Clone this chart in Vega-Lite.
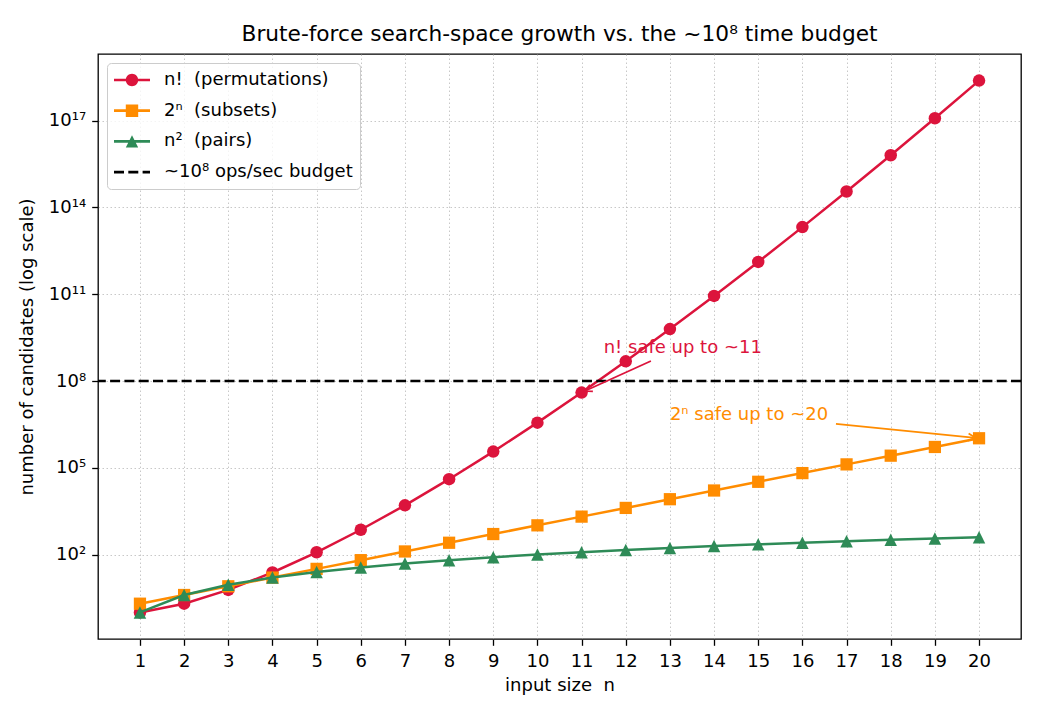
{
  "$schema": "https://vega.github.io/schema/vega-lite/v6.json",
  "width": 923,
  "height": 585,
  "autosize": {"type": "none"},
  "padding": {"left": 98, "top": 54, "right": 19, "bottom": 76},
  "background": "white",
  "title": {
    "text": "Brute-force search-space growth vs. the ~10⁸ time budget",
    "font": "DejaVu Sans",
    "fontSize": 21.7,
    "fontWeight": "normal",
    "color": "black",
    "anchor": "middle",
    "baseline": "bottom",
    "offset": -14
  },
  "config": {
    "font": "DejaVu Sans",
    "view": {"stroke": "black", "strokeWidth": 1.3},
    "axis": {
      "labelFont": "DejaVu Sans",
      "labelFontSize": 18,
      "labelColor": "black",
      "titleFont": "DejaVu Sans",
      "titleFontSize": 18,
      "titleFontWeight": "normal",
      "titleColor": "black",
      "tickColor": "black",
      "tickSize": 6.3,
      "tickWidth": 1.3,
      "labelPadding": 6,
      "domain": false,
      "grid": true,
      "gridColor": "#b0b0b0",
      "gridOpacity": 0.7,
      "gridDash": [1.5, 2.5],
      "gridWidth": 1
    }
  },
  "datasets": {
    "growth": [
      {"n": 1, "series": "factorial", "value": 1},
      {"n": 2, "series": "factorial", "value": 2},
      {"n": 3, "series": "factorial", "value": 6},
      {"n": 4, "series": "factorial", "value": 24},
      {"n": 5, "series": "factorial", "value": 120},
      {"n": 6, "series": "factorial", "value": 720},
      {"n": 7, "series": "factorial", "value": 5040},
      {"n": 8, "series": "factorial", "value": 40320},
      {"n": 9, "series": "factorial", "value": 362880},
      {"n": 10, "series": "factorial", "value": 3628800},
      {"n": 11, "series": "factorial", "value": 39916800},
      {"n": 12, "series": "factorial", "value": 479001600},
      {"n": 13, "series": "factorial", "value": 6227020800},
      {"n": 14, "series": "factorial", "value": 87178291200},
      {"n": 15, "series": "factorial", "value": 1307674368000},
      {"n": 16, "series": "factorial", "value": 20922789888000},
      {"n": 17, "series": "factorial", "value": 355687428096000},
      {"n": 18, "series": "factorial", "value": 6402373705728000},
      {"n": 19, "series": "factorial", "value": 1.21645100408832e17},
      {"n": 20, "series": "factorial", "value": 2.43290200817664e18},
      {"n": 1, "series": "subsets", "value": 2},
      {"n": 2, "series": "subsets", "value": 4},
      {"n": 3, "series": "subsets", "value": 8},
      {"n": 4, "series": "subsets", "value": 16},
      {"n": 5, "series": "subsets", "value": 32},
      {"n": 6, "series": "subsets", "value": 64},
      {"n": 7, "series": "subsets", "value": 128},
      {"n": 8, "series": "subsets", "value": 256},
      {"n": 9, "series": "subsets", "value": 512},
      {"n": 10, "series": "subsets", "value": 1024},
      {"n": 11, "series": "subsets", "value": 2048},
      {"n": 12, "series": "subsets", "value": 4096},
      {"n": 13, "series": "subsets", "value": 8192},
      {"n": 14, "series": "subsets", "value": 16384},
      {"n": 15, "series": "subsets", "value": 32768},
      {"n": 16, "series": "subsets", "value": 65536},
      {"n": 17, "series": "subsets", "value": 131072},
      {"n": 18, "series": "subsets", "value": 262144},
      {"n": 19, "series": "subsets", "value": 524288},
      {"n": 20, "series": "subsets", "value": 1048576},
      {"n": 1, "series": "pairs", "value": 1},
      {"n": 2, "series": "pairs", "value": 4},
      {"n": 3, "series": "pairs", "value": 9},
      {"n": 4, "series": "pairs", "value": 16},
      {"n": 5, "series": "pairs", "value": 25},
      {"n": 6, "series": "pairs", "value": 36},
      {"n": 7, "series": "pairs", "value": 49},
      {"n": 8, "series": "pairs", "value": 64},
      {"n": 9, "series": "pairs", "value": 81},
      {"n": 10, "series": "pairs", "value": 100},
      {"n": 11, "series": "pairs", "value": 121},
      {"n": 12, "series": "pairs", "value": 144},
      {"n": 13, "series": "pairs", "value": 169},
      {"n": 14, "series": "pairs", "value": 196},
      {"n": 15, "series": "pairs", "value": 225},
      {"n": 16, "series": "pairs", "value": 256},
      {"n": 17, "series": "pairs", "value": 289},
      {"n": 18, "series": "pairs", "value": 324},
      {"n": 19, "series": "pairs", "value": 361},
      {"n": 20, "series": "pairs", "value": 400}
    ],
    "budget": [
      {"series": "budget", "value": 100000000}
    ],
    "notes": [
      {"which": "factorial", "note": "n! safe up to ~11", "text_n": 11.5, "text_value": 910000000, "tail_n": 12.57, "tail_value": 493000000, "head_n": 11.074, "head_value": 45000000},
      {"which": "subsets", "note": "2ⁿ safe up to ~20", "text_n": 13, "text_value": 4500000, "tail_n": 16.76, "tail_value": 3280000, "head_n": 19.918, "head_value": 1084000}
    ]
  },
  "data": {"name": "growth"},
  "layer": [
    {
      "transform": [{"filter": {"field": "series", "equal": "factorial"}}],
      "mark": {"type": "line", "strokeWidth": 2.5, "point": {"shape": "circle", "size": 156, "filled": true, "opacity": 1}},
      "encoding": {
        "x": {
          "field": "n", "type": "quantitative",
          "scale": {"domain": [0.05, 20.95], "nice": false, "zero": false},
          "axis": {
            "values": [1, 2, 3, 4, 5, 6, 7, 8, 9, 10, 11, 12, 13, 14, 15, 16, 17, 18, 19, 20],
            "format": "d", "labelAngle": 0, "labelPadding": 7,
            "title": "input size\u00a0 n", "titlePadding": 6
          }
        },
        "y": {
          "field": "value", "type": "quantitative",
          "scale": {"type": "log", "domain": [0.12037, 2.0205e19], "nice": false},
          "axis": {
            "values": [100, 100000, 100000000, 100000000000, 100000000000000, 100000000000000000],
            "labelExpr": "datum.value < 1000 ? '10²' : datum.value < 1000000 ? '10⁵' : datum.value < 1000000000 ? '10⁸' : datum.value < 1000000000000 ? '10¹¹' : datum.value < 1000000000000000 ? '10¹⁴' : '10¹⁷'",
            "title": "number of candidates (log scale)", "titlePadding": 12
          }
        },
        "color": {
          "field": "series", "type": "nominal",
          "scale": {"domain": ["factorial", "subsets", "pairs", "budget"], "range": ["#dc143c", "#ff8c00", "#2e8b57", "#000000"]},
          "legend": {
            "title": null,
            "orient": "top-left",
            "offset": 9,
            "padding": 7,
            "rowPadding": 11.7,
            "labelOffset": 30,
            "labelFont": "DejaVu Sans",
            "labelFontSize": 18,
            "labelColor": "black",
            "labelLimit": 400,
            "symbolSize": 400,
            "symbolStrokeWidth": 0,
            "fillColor": "rgba(255,255,255,0.8)",
            "strokeColor": "#cccccc",
            "cornerRadius": 4,
            "labelExpr": "datum.value === 'factorial' ? 'n!\u00a0 (permutations)' : datum.value === 'subsets' ? '2ⁿ\u00a0 (subsets)' : datum.value === 'pairs' ? 'n²\u00a0 (pairs)' : '~10⁸ ops/sec budget'",
            "encode": {
              "symbols": {
                "update": {
                  "shape": {"signal": "datum.value === 'budget' ? 'M-1,-0.135H0V0.135H-1ZM0.43,-0.135H1.43V0.135H0.43ZM1.86,-0.135H2.6V0.135H1.86Z' : datum.value === 'subsets' ? 'M-1,-0.135H2.6V0.135H-1ZM0.18,-0.62H1.42V0.62H0.18Z' : datum.value === 'pairs' ? 'M-1,-0.135H2.6V0.135H-1ZM0.8,-0.62L1.42,0.62H0.18Z' : 'M-1,-0.135H2.6V0.135H-1ZM1.42,0A0.62,0.62 0 1,1 0.18,0A0.62,0.62 0 1,1 1.42,0Z'"},
                  "fill": {"scale": "color", "field": "value"},
                  "stroke": {"value": "transparent"},
                  "strokeWidth": {"value": 0},
                  "size": {"value": 400},
                  "opacity": {"value": 1}
                }
              }
            }
          }
        }
      }
    },
    {
      "transform": [{"filter": {"field": "series", "equal": "subsets"}}],
      "mark": {"type": "line", "strokeWidth": 2.5, "point": {"shape": "square", "size": 150, "filled": true, "opacity": 1}},
      "encoding": {
        "x": {"field": "n", "type": "quantitative"},
        "y": {"field": "value", "type": "quantitative"},
        "color": {"field": "series", "type": "nominal", "legend": null}
      }
    },
    {
      "transform": [{"filter": {"field": "series", "equal": "pairs"}}],
      "mark": {"type": "line", "strokeWidth": 2.5, "point": {"shape": "M0,-1L1,1H-1Z", "size": 156, "filled": true, "opacity": 1}},
      "encoding": {
        "x": {"field": "n", "type": "quantitative"},
        "y": {"field": "value", "type": "quantitative"},
        "color": {"field": "series", "type": "nominal", "legend": null}
      }
    },
    {
      "data": {"name": "budget"},
      "mark": {"type": "rule", "strokeWidth": 2.7, "strokeDash": [10, 4.3]},
      "encoding": {
        "y": {"field": "value", "type": "quantitative"},
        "color": {"field": "series", "type": "nominal", "legend": null}
      }
    },
    {
      "data": {"name": "notes"},
      "transform": [{"filter": {"field": "which", "equal": "factorial"}}],
      "layer": [
        {
          "mark": {"type": "text", "align": "left", "baseline": "alphabetic", "font": "DejaVu Sans", "fontSize": 18, "color": "#dc143c"},
          "encoding": {
            "x": {"field": "text_n", "type": "quantitative"},
            "y": {"field": "text_value", "type": "quantitative"},
            "text": {"field": "note"}
          }
        },
        {
          "mark": {"type": "rule", "strokeWidth": 1.8, "color": "#dc143c"},
          "encoding": {
            "x": {"field": "tail_n", "type": "quantitative"},
            "y": {"field": "tail_value", "type": "quantitative"},
            "x2": {"field": "head_n"},
            "y2": {"field": "head_value"}
          }
        },
        {
          "mark": {"type": "point", "shape": "M-1,-0.5L0,0L-1,0.5", "size": 207, "angle": 155.5, "filled": false, "strokeWidth": 1.8, "color": "#dc143c", "opacity": 1},
          "encoding": {
            "x": {"field": "head_n", "type": "quantitative"},
            "y": {"field": "head_value", "type": "quantitative"}
          }
        }
      ]
    },
    {
      "data": {"name": "notes"},
      "transform": [{"filter": {"field": "which", "equal": "subsets"}}],
      "layer": [
        {
          "mark": {"type": "text", "align": "left", "baseline": "alphabetic", "font": "DejaVu Sans", "fontSize": 18, "color": "#ff8c00"},
          "encoding": {
            "x": {"field": "text_n", "type": "quantitative"},
            "y": {"field": "text_value", "type": "quantitative"},
            "text": {"field": "note"}
          }
        },
        {
          "mark": {"type": "rule", "strokeWidth": 1.8, "color": "#ff8c00"},
          "encoding": {
            "x": {"field": "tail_n", "type": "quantitative"},
            "y": {"field": "tail_value", "type": "quantitative"},
            "x2": {"field": "head_n"},
            "y2": {"field": "head_value"}
          }
        },
        {
          "mark": {"type": "point", "shape": "M-1,-0.5L0,0L-1,0.5", "size": 207, "angle": 5.7, "filled": false, "strokeWidth": 1.8, "color": "#ff8c00", "opacity": 1},
          "encoding": {
            "x": {"field": "head_n", "type": "quantitative"},
            "y": {"field": "head_value", "type": "quantitative"}
          }
        }
      ]
    }
  ]
}
